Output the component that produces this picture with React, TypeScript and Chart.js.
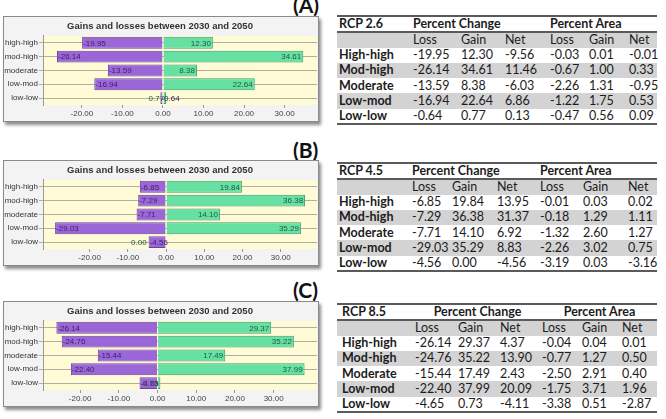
import React, { useEffect, useRef } from "react";
import { Chart, registerables } from "chart.js";
Chart.register(...registerables);

const categories = ["high-high", "mod-high", "moderate", "low-mod", "low-low"];
const chartTitle = "Gains and losses between 2030 and 2050";
const tickStep = 10;

const lossA = [-19.95, -26.14, -13.59, -16.94, -0.64];
const gainA = [12.3, 34.61, 8.38, 22.64, 0.77];
const lossB = [-6.85, -7.29, -7.71, -29.03, -4.56];
const gainB = [19.84, 36.38, 14.1, 35.29, 0.0];
const lossC = [-26.14, -24.76, -15.44, -22.4, -4.65];
const gainC = [29.37, 35.22, 17.49, 37.99, 0.73];

const rangeA = [-29.6, 38];
const rangeB = [-32.2, 39.5];
const rangeC = [-29.6, 41.2];

const rowLabels = ["High-high", "Mod-high", "Moderate", "Low-mod", "Low-low"];
const colHeaders = ["Loss", "Gain", "Net", "Loss", "Gain", "Net"];

const netA = [-9.56, 11.46, -6.03, 6.86, 0.13];
const areaLossA = [-0.03, -0.67, -2.26, -1.22, -0.47];
const areaGainA = [0.01, 1.0, 1.31, 1.75, 0.56];
const areaNetA = [-0.01, 0.33, -0.95, 0.53, 0.09];

const netB = [13.95, 31.37, 6.92, 8.83, -4.56];
const areaLossB = [-0.01, -0.18, -1.32, -2.26, -3.19];
const areaGainB = [0.03, 1.29, 2.6, 3.02, 0.03];
const areaNetB = [0.02, 1.11, 1.27, 0.75, -3.16];

const netC = [4.37, 13.9, 2.43, 20.09, -4.11];
const areaLossC = [-0.04, -0.77, -2.5, -1.75, -3.38];
const areaGainC = [0.04, 1.27, 2.91, 3.71, 0.51];
const areaNetC = [0.01, 0.5, 0.4, 1.96, -2.87];

const CHART_FONT = "'Liberation Sans', Arial, sans-serif";
const CANVAS_W = 340;
const CANVAS_H = 106;
const BOX_W = 316;

const bgPlugin = {
  id: "plotBg",
  beforeDraw(chart: any) {
    const { ctx, chartArea } = chart;
    ctx.save();
    ctx.fillStyle = "#fffbd6";
    ctx.fillRect(chartArea.left, chartArea.top, chartArea.right - chartArea.left, chartArea.bottom - chartArea.top);
    ctx.restore();
  },
};

const valueLabelPlugin = {
  id: "valueLabels",
  afterDatasetsDraw(chart: any) {
    const { ctx } = chart;
    ctx.save();
    ctx.font = `8px ${CHART_FONT}`;
    ctx.textBaseline = "middle";
    chart.data.datasets.forEach((ds: any, di: number) => {
      const meta = chart.getDatasetMeta(di);
      meta.data.forEach((el: any, i: number) => {
        const v = ds.data[i];
        const txt = v.toFixed(2);
        const lo = Math.min(el.x, el.base);
        const hi = Math.max(el.x, el.base);
        if (v < 0) {
          ctx.fillStyle = "#3b2466";
          ctx.textAlign = "left";
          ctx.fillText(txt, lo + 1, el.y + 0.5);
        } else {
          ctx.fillStyle = "#1f5a3c";
          ctx.textAlign = "right";
          ctx.fillText(txt, hi - 2, el.y + 0.5);
        }
      });
    });
    ctx.restore();
  },
};

function GainLossChart(props: { loss: number[]; gain: number[]; range: number[]; top: number; plotRight: number }) {
  const ref = useRef<HTMLCanvasElement>(null);
  useEffect(() => {
    const font = { family: CHART_FONT, size: 8 };
    const chart = new Chart(ref.current as HTMLCanvasElement, {
      type: "bar",
      data: {
        labels: categories,
        datasets: [
          {
            data: props.loss,
            backgroundColor: "#9b66d8",
            borderColor: "#6a3fa6",
            borderWidth: 1,
            barPercentage: 0.86,
            categoryPercentage: 1,
          },
          {
            data: props.gain,
            backgroundColor: "#66e0a3",
            borderColor: "#38a06b",
            borderWidth: 1,
            barPercentage: 0.86,
            categoryPercentage: 1,
          },
        ],
      },
      options: {
        indexAxis: "y",
        animation: false,
        responsive: false,
        maintainAspectRatio: false,
        layout: { padding: { left: 0, right: CANVAS_W - props.plotRight, top: 0, bottom: 0 } },
        plugins: {
          legend: { display: false },
          tooltip: { enabled: false },
          title: {
            display: true,
            text: chartTitle,
            color: "#333",
            font: { family: CHART_FONT, size: 9.5, weight: "bold" },
            padding: { top: 4.5, bottom: 4 },
          },
        },
        scales: {
          x: {
            stacked: true,
            min: props.range[0],
            max: props.range[1],
            afterBuildTicks: (s: any) => {
              s.ticks = s.ticks.filter((t: any) => Math.abs(t.value % tickStep) < 1e-6);
            },
            ticks: {
              stepSize: tickStep,
              autoSkip: false,
              maxRotation: 0,
              padding: 1,
              color: "#444",
              font,
              callback: (v: any) => Number(v).toFixed(2),
            },
            grid: { drawOnChartArea: false, tickLength: 3, color: "#999" },
            border: { display: false },
            afterFit: (s: any) => {
              s.height = 17;
            },
          },
          y: {
            stacked: true,
            ticks: { padding: 1, color: "#333", font, autoSkip: false },
            grid: { offset: false, color: "#b0b0a0", tickLength: 4 },
            border: { color: "#999" },
            afterFit: (s: any) => {
              s.width = 40;
            },
          },
        },
      } as any,
      plugins: [bgPlugin, valueLabelPlugin],
    });
    return () => chart.destroy();
  }, []);
  return (
    <div
      style={{
        position: "absolute",
        left: 3,
        top: props.top,
        width: BOX_W - 2,
        height: CANVAS_H - 2,
        border: "1px solid #8a8a8a",
        background: "#f3f3f3",
        overflow: "hidden",
        boxShadow: "2px 3px 3px rgba(0,0,0,0.45)",
      }}
    >
      <canvas
        ref={ref}
        width={CANVAS_W}
        height={CANVAS_H}
        style={{ position: "absolute", left: -1, top: -1, width: CANVAS_W, height: CANVAS_H, display: "block" }}
      />
    </div>
  );
}

function DataTable(props: {
  top: number;
  rcp: string;
  widths: number[];
  centerHeads: boolean;
  firstPad: number;
  loss: number[];
  gain: number[];
  net: number[];
  aLoss: number[];
  aGain: number[];
  aNet: number[];
}) {
  const line = "2px solid #5a5a5a";
  const gray = "#d3d3d3";
  const cell = (extra: any = {}) => ({ padding: "0 0 0 2px", whiteSpace: "nowrap" as const, ...extra });
  return (
    <div style={{ position: "absolute", left: 337, top: props.top, width: 320 }}>
      <table
        style={{
          borderCollapse: "collapse",
          tableLayout: "fixed",
          width: 320,
          fontFamily: "Lato, 'Open Sans', sans-serif",
          fontSize: 12.5,
          color: "#1c1c1c",
          lineHeight: "14px",
        }}
      >
        <colgroup>
          {props.widths.map((w, i) => (
            <col key={i} style={{ width: w }} />
          ))}
        </colgroup>
        <tbody>
          <tr style={{ height: 16, borderTop: line, borderBottom: line, fontWeight: "bold" }}>
            <td style={cell({ paddingLeft: props.firstPad })}>{props.rcp}</td>
            <td colSpan={3} style={cell({ textAlign: props.centerHeads ? "center" : "left" })}>
              Percent Change
            </td>
            <td colSpan={3} style={cell({ textAlign: props.centerHeads ? "center" : "left" })}>
              Percent Area
            </td>
          </tr>
          <tr style={{ height: 15.5, background: gray }}>
            <td style={cell()}></td>
            {colHeaders.map((h, i) => (
              <td key={i} style={cell()}>
                {h}
              </td>
            ))}
          </tr>
          {rowLabels.map((r, i) => (
            <tr
              key={r}
              style={{
                height: 15.3,
                background: i % 2 === 1 ? gray : "transparent",
                borderBottom: i === rowLabels.length - 1 ? line : "none",
              }}
            >
              <td style={cell({ fontWeight: "bold", paddingLeft: props.firstPad })}>{r}</td>
              <td style={cell()}>{props.loss[i].toFixed(2)}</td>
              <td style={cell()}>{props.gain[i].toFixed(2)}</td>
              <td style={cell()}>{props.net[i].toFixed(2)}</td>
              <td style={cell()}>{props.aLoss[i].toFixed(2)}</td>
              <td style={cell()}>{props.aGain[i].toFixed(2)}</td>
              <td style={cell()}>{props.aNet[i].toFixed(2)}</td>
            </tr>
          ))}
        </tbody>
      </table>
    </div>
  );
}

function PanelLabel(props: { text: string; top: number }) {
  return (
    <div
      style={{
        position: "absolute",
        left: 293,
        top: props.top,
        fontFamily: "Lato, sans-serif",
        fontWeight: "bold",
        fontSize: 21,
        lineHeight: "21px",
        color: "#111",
      }}
    >
      {props.text}
    </div>
  );
}

export default function App() {
  return (
    <div style={{ position: "absolute", left: 0, top: 0, width: 666, height: 419, background: "#fff", overflow: "hidden" }}>
      <PanelLabel text="(A)" top={-6} />
      <PanelLabel text="(B)" top={139} />
      <PanelLabel text="(C)" top={279} />
      <GainLossChart loss={lossA} gain={gainA} range={rangeA} top={16} plotRight={314} />
      <GainLossChart loss={lossB} gain={gainB} range={rangeB} top={160} plotRight={314} />
      <GainLossChart loss={lossC} gain={gainC} range={rangeC} top={301} plotRight={314} />
      <DataTable
        top={15}
        rcp="RCP 2.6"
        widths={[74, 48, 44, 45, 39, 40, 30]}
        centerHeads={false}
        firstPad={2}
        loss={lossA}
        gain={gainA}
        net={netA}
        aLoss={areaLossA}
        aGain={areaGainA}
        aNet={areaNetA}
      />
      <DataTable
        top={162}
        rcp="RCP 4.5"
        widths={[73, 40, 45, 43, 43, 45, 31]}
        centerHeads={false}
        firstPad={2}
        loss={lossB}
        gain={gainB}
        net={netB}
        aLoss={areaLossB}
        aGain={areaGainB}
        aNet={areaNetB}
      />
      <DataTable
        top={303}
        rcp="RCP 8.5"
        widths={[76, 43, 42, 42, 40, 40, 37]}
        centerHeads={true}
        firstPad={5}
        loss={lossC}
        gain={gainC}
        net={netC}
        aLoss={areaLossC}
        aGain={areaGainC}
        aNet={areaNetC}
      />
    </div>
  );
}
